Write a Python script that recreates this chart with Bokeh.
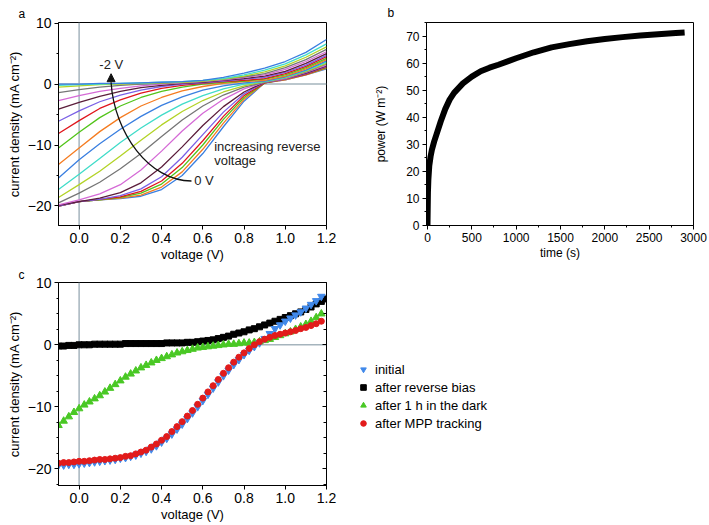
from bokeh.plotting import figure
from bokeh.layouts import column, row
from bokeh.models import (Span, Legend, LegendItem, LinearAxis, FixedTicker,
                          SingleIntervalTicker, NumeralTickFormatter, Arrow,
                          NormalHead, Label, CustomJSTickFormatter, Range1d)
from bokeh.embed import file_html
from bokeh.resources import INLINE

FONT = "Liberation Sans"

# ---------------- panel a: J-V curves after increasing reverse bias ----------------
voltage_a = [-0.1, 0.0, 0.1, 0.2, 0.3, 0.4, 0.5, 0.6, 0.7, 0.8, 0.9, 1.0, 1.1, 1.2]
j_bias_0v0 = [-20.0, -19.3, -19.0, -18.8, -18.4, -17.3, -15.0, -11.4, -7.0, -2.8, 0.2, 0.7, 1.5, 2.5]
j_bias_0v1 = [-20.0, -19.3, -19.0, -18.7, -18.2, -16.9, -14.4, -10.7, -6.4, -2.5, 0.2, 0.7, 1.5, 2.6]
j_bias_0v2 = [-20.0, -19.3, -19.0, -18.6, -17.9, -16.4, -13.7, -10.0, -5.8, -2.2, 0.2, 0.8, 1.6, 2.7]
j_bias_0v3 = [-20.0, -19.3, -18.9, -18.5, -17.6, -15.9, -13.0, -9.3, -5.3, -1.9, 0.2, 0.8, 1.6, 2.8]
j_bias_0v4 = [-20.0, -19.3, -18.9, -18.3, -17.2, -15.2, -12.0, -8.3, -4.6, -1.6, 0.3, 0.8, 1.7, 2.9]
j_bias_0v5 = [-19.9, -19.3, -18.7, -17.8, -16.2, -13.6, -10.3, -6.8, -3.7, -1.3, 0.3, 0.9, 1.8, 3.0]
j_bias_0v6 = [-19.8, -19.0, -18.0, -16.5, -14.1, -11.0, -7.7, -4.8, -2.5, -0.8, 0.3, 0.9, 1.9, 3.1]
j_bias_0v7 = [-19.5, -17.9, -16.1, -13.9, -11.4, -8.6, -5.9, -3.6, -1.8, -0.5, 0.3, 1.0, 2.0, 3.3]
j_bias_0v8 = [-18.6, -16.5, -14.3, -11.8, -9.2, -6.7, -4.5, -2.7, -1.3, -0.3, 0.4, 1.0, 2.1, 3.4]
j_bias_0v9 = [-17.3, -14.8, -12.2, -9.6, -7.2, -5.1, -3.3, -1.9, -0.8, 0.0, 0.4, 1.1, 2.2, 3.6]
j_bias_1v0 = [-15.4, -12.4, -9.8, -7.4, -5.3, -3.5, -2.1, -1.0, -0.3, 0.2, 0.5, 1.2, 2.3, 3.8]
j_bias_1v1 = [-13.2, -10.5, -7.8, -5.5, -3.6, -2.2, -1.1, -0.4, 0.1, 0.4, 0.6, 1.3, 2.5, 4.0]
j_bias_1v2 = [-10.5, -7.9, -5.5, -3.6, -2.2, -1.2, -0.5, 0.0, 0.3, 0.5, 0.8, 1.5, 2.7, 4.2]
j_bias_1v3 = [-8.1, -6.0, -4.0, -2.6, -1.5, -0.7, -0.2, 0.1, 0.4, 0.6, 0.9, 1.7, 2.9, 4.5]
j_bias_1v4 = [-6.1, -4.4, -2.9, -1.8, -1.0, -0.4, 0.0, 0.2, 0.5, 0.8, 1.1, 1.9, 3.1, 4.7]
j_bias_1v5 = [-4.1, -3.0, -2.0, -1.2, -0.6, -0.2, 0.1, 0.3, 0.6, 0.9, 1.3, 2.1, 3.4, 5.0]
j_bias_1v6 = [-2.7, -1.9, -1.2, -0.7, -0.3, 0.0, 0.2, 0.4, 0.7, 1.1, 1.5, 2.4, 3.7, 5.3]
j_bias_1v7 = [-1.4, -0.9, -0.5, -0.2, 0.0, 0.1, 0.3, 0.5, 0.8, 1.2, 1.7, 2.7, 4.0, 5.7]
j_bias_1v8 = [-0.5, -0.3, -0.1, 0.0, 0.1, 0.2, 0.3, 0.5, 0.8, 1.3, 2.0, 3.0, 4.4, 6.1]
j_bias_1v9 = [-0.2, -0.1, 0.0, 0.1, 0.2, 0.3, 0.4, 0.6, 0.9, 1.5, 2.3, 3.3, 4.8, 6.6]
j_bias_2v0 = [0.0, 0.0, 0.1, 0.1, 0.2, 0.3, 0.4, 0.6, 1.1, 1.8, 2.6, 3.7, 5.2, 7.3]

curves_a = [j_bias_0v0, j_bias_0v1, j_bias_0v2, j_bias_0v3, j_bias_0v4, j_bias_0v5,
            j_bias_0v6, j_bias_0v7, j_bias_0v8, j_bias_0v9, j_bias_1v0, j_bias_1v1,
            j_bias_1v2, j_bias_1v3, j_bias_1v4, j_bias_1v5, j_bias_1v6, j_bias_1v7,
            j_bias_1v8, j_bias_1v9, j_bias_2v0]
palette_a = ["#3a7fe0", "#f57c21", "#52c41a", "#e0161c", "#7b61e6",
             "#5b1d3b", "#d56ad6", "#767676", "#b3d327", "#40dcc9"]

# ---------------- panel b: power during MPP tracking ----------------
time_s = [0, 5, 10, 20, 35, 50, 75, 100, 150, 200, 250, 300, 400, 500, 600, 700,
          800, 1000, 1200, 1400, 1600, 1800, 2000, 2200, 2400, 2600, 2800, 2900]
power_wm2 = [0, 12, 17, 22, 25.5, 28, 31, 33.5, 38.5, 43, 46.5, 49, 52.5, 55, 57,
             58.3, 59.4, 61.8, 64.0, 65.8, 67.0, 68.1, 68.9, 69.6, 70.2, 70.7, 71.1, 71.3]

# ---------------- panel c: J-V curves of the four states ----------------
voltage_c = [-0.1, -0.075, -0.05, -0.025, 0.0, 0.025, 0.05, 0.075, 0.1, 0.125,
             0.15, 0.175, 0.2, 0.225, 0.25, 0.275, 0.3, 0.325, 0.35, 0.375,
             0.4, 0.425, 0.45, 0.475, 0.5, 0.525, 0.55, 0.575, 0.6, 0.625,
             0.65, 0.675, 0.7, 0.725, 0.75, 0.775, 0.8, 0.825, 0.85, 0.875,
             0.9, 0.925, 0.95, 0.975, 1.0, 1.025, 1.05, 1.075, 1.1, 1.125,
             1.15, 1.175]
voltage_c_reverse = voltage_c + [1.2]
j_initial = [-19.4, -19.4, -19.3, -19.3, -19.2, -19.1, -19.0, -18.9, -18.8, -18.7,
             -18.6, -18.5, -18.3, -18.2, -18.0, -17.8, -17.5, -17.2, -16.8, -16.3,
             -15.7, -15.1, -14.4, -13.6, -12.8, -11.9, -11.0, -10.0, -9.0, -8.0,
             -7.0, -6.0, -5.0, -4.1, -3.2, -2.4, -1.6, -0.9, -0.3, 0.3,
             1.0, 1.8, 2.6, 3.2, 3.8, 4.3, 4.8, 5.3, 5.9, 6.5,
             7.1, 7.8]
j_after_reverse = [-0.2, -0.2, -0.1, -0.1, 0.0, 0.0, 0.0, 0.1, 0.1, 0.1,
                   0.1, 0.1, 0.1, 0.2, 0.2, 0.2, 0.2, 0.2, 0.2, 0.2,
                   0.2, 0.3, 0.3, 0.3, 0.3, 0.4, 0.4, 0.5, 0.6, 0.7,
                   0.8, 1.0, 1.2, 1.4, 1.7, 1.9, 2.1, 2.4, 2.6, 2.9,
                   3.2, 3.5, 3.8, 4.1, 4.4, 4.7, 5.0, 5.3, 5.7, 6.1,
                   6.6, 7.0, 7.4]
j_after_dark = [-13.0, -12.3, -11.6, -10.9, -10.3, -9.7, -9.2, -8.7, -8.2, -7.6,
                -7.0, -6.4, -5.8, -5.2, -4.7, -4.2, -3.7, -3.3, -2.9, -2.5,
                -2.2, -1.9, -1.6, -1.3, -1.1, -0.9, -0.7, -0.5, -0.4, -0.3,
                -0.2, -0.1, 0.0, 0.1, 0.1, 0.2, 0.3, 0.3, 0.4, 0.5,
                0.7, 0.9, 1.2, 1.5, 1.8, 2.1, 2.5, 2.9, 3.3, 3.8,
                4.4, 5.0]
j_after_mpp = [-19.1, -19.0, -19.0, -18.9, -18.8, -18.8, -18.7, -18.6, -18.5, -18.5,
               -18.4, -18.3, -18.2, -18.0, -17.9, -17.6, -17.3, -17.0, -16.5, -16.0,
               -15.4, -14.8, -14.0, -13.2, -12.4, -11.5, -10.6, -9.6, -8.6, -7.6,
               -6.6, -5.6, -4.6, -3.7, -2.8, -2.0, -1.3, -0.6, 0.0, 0.5,
               0.9, 1.2, 1.5, 1.7, 1.9, 2.1, 2.3, 2.6, 2.8, 3.1,
               3.4, 3.8]
legend_labels = ["initial", "after reverse bias", "after 1 h in the dark", "after MPP tracking"]

C_INIT, C_REV, C_DARK, C_MPP = "#4189ea", "black", "#49c824", "#e21b1b"


def style(p, tick_px, label_px):
    for ax in p.axis:
        ax.major_label_text_font = FONT
        ax.major_label_text_font_size = f"{tick_px}px"
        ax.major_label_text_color = "black"
        ax.axis_label_text_font = FONT
        ax.axis_label_text_font_size = f"{label_px}px"
        ax.axis_label_text_font_style = "normal"
        ax.axis_label_text_color = "black"
        ax.axis_line_color = "black"
        ax.major_tick_line_color = "black"
        ax.minor_tick_line_color = "black"
        ax.major_tick_in = 0
        ax.major_tick_out = 4
        ax.minor_tick_in = 0
        ax.minor_tick_out = 2
        ax.major_label_standoff = 3
    p.xgrid.visible = False
    p.ygrid.visible = False
    p.outline_line_color = "black"
    p.outline_line_alpha = 1
    p.background_fill_color = "white"
    p.border_fill_color = "white"


def panel_letter(p, text, offset, standoff):
    p.title.text = text
    p.title.text_font = FONT
    p.title.text_font_size = "12px"
    p.title.text_font_style = "normal"
    p.title.text_color = "black"
    p.title.align = "left"
    p.title.offset = offset
    p.title.standoff = standoff


def zero_lines(p):
    p.add_layout(Span(location=0, dimension="width", line_color="#a5b4bd",
                      line_width=1.5, level="underlay"))
    p.add_layout(Span(location=0, dimension="height", line_color="#a5b4bd",
                      line_width=1.5, level="underlay"))


XA = (-0.1, 1.2)

# ---------- figure a ----------
pa = figure(width=340, height=264, x_range=XA, y_range=(-23.2, 10.1),
            output_backend="svg", toolbar_location=None,
            min_border_left=58, min_border_right=14, min_border_top=21, min_border_bottom=37)
panel_letter(pa, "a", -40, 4)
zero_lines(pa)
for i, j in enumerate(curves_a):
    pa.line(voltage_a, j, line_color=palette_a[i % len(palette_a)], line_width=1.3)
pa.xaxis.ticker = FixedTicker(ticks=[0.0, 0.2, 0.4, 0.6, 0.8, 1.0, 1.2])
pa.xaxis.formatter = NumeralTickFormatter(format="0.0")
pa.yaxis.ticker = FixedTicker(ticks=[-20, -10, 0, 10], minor_ticks=[-15, -5, 5])
pa.xaxis.axis_label = "voltage (V)"
pa.yaxis.axis_label = "current density (mA cm\u207b\u00b2)"
style(pa, 14, 13)
pa.xaxis.axis_label_standoff = 1
pa.yaxis.axis_label_standoff = 3
# curved arrow
pa.bezier(x0=[0.545], y0=[-15.9], x1=[0.155], y1=[0.3], cx0=[0.34], cy0=[-15.9],
          cx1=[0.17], cy1=[-8.0], line_color="#111111", line_width=1.3)
pa.add_layout(Arrow(end=NormalHead(size=8, fill_color="#111111", line_color="#111111"),
                    x_start=0.155, y_start=0.0, x_end=0.155, y_end=1.7, line_alpha=0))
for (tx, ty, tt) in [(0.098, 3.2, "-2 V"), (0.558, -15.9, "0 V"),
                     (0.655, -10.2, "increasing reverse"), (0.655, -12.6, "voltage")]:
    pa.add_layout(Label(x=tx, y=ty, text=tt, text_font=FONT, text_font_size="13px",
                        text_color="#222222", text_align="left", text_baseline="middle"))

# ---------- figure b ----------
pb = figure(width=369, height=264, x_range=(-11, 3000), y_range=(0, 75),
            output_backend="svg", toolbar_location=None,
            min_border_left=86, min_border_right=16, min_border_top=22, min_border_bottom=37)
panel_letter(pb, "b", -39, 5)
pb.line(time_s, power_wm2, line_color="black", line_width=6)
pb.xaxis.ticker = SingleIntervalTicker(interval=500, num_minor_ticks=2)
pb.yaxis.ticker = SingleIntervalTicker(interval=10, num_minor_ticks=2)
pb.xaxis.axis_label = "time (s)"
pb.yaxis.axis_label = "power (W m\u207b\u00b2)"
style(pb, 12, 12)
pb.xaxis.axis_label_standoff = 1
pb.yaxis.axis_label_standoff = 15

# ---------- figure c ----------
pc = figure(width=340, height=261, x_range=XA, y_range=(-22.7, 10.05),
            output_backend="svg", toolbar_location=None,
            min_border_left=58, min_border_right=14, min_border_top=18, min_border_bottom=40)
panel_letter(pc, "c", -40, 2)
zero_lines(pc)
pc.scatter(voltage_c_reverse, j_after_reverse, marker="square", size=6,
           fill_color=C_REV, line_color=C_REV)
pc.scatter(voltage_c, j_after_dark, marker="triangle", size=7.5,
           fill_color=C_DARK, line_color=C_DARK)
pc.scatter(voltage_c, j_initial, marker="inverted_triangle", size=7.5,
           fill_color=C_INIT, line_color=C_INIT)
pc.scatter(voltage_c, j_after_mpp, marker="circle", size=6,
           fill_color=C_MPP, line_color=C_MPP)
pc.xaxis.ticker = FixedTicker(ticks=[0.0, 0.2, 0.4, 0.6, 0.8, 1.0, 1.2])
pc.xaxis.formatter = NumeralTickFormatter(format="0.0")
minor_c = [-22.5, -17.5, -15, -12.5, -7.5, -5, -2.5, 2.5, 5, 7.5]
pc.yaxis.ticker = FixedTicker(ticks=[-20, -10, 0, 10], minor_ticks=minor_c)
pc.xaxis.axis_label = "voltage (V)"
pc.yaxis.axis_label = "current density (mA cm\u207b\u00b2)"
style(pc, 14, 13)
pc.xaxis.axis_label_standoff = 1
pc.yaxis.axis_label_standoff = 3
right_ax = LinearAxis(ticker=FixedTicker(ticks=[-20, -10, 0, 10], minor_ticks=minor_c),
                      formatter=CustomJSTickFormatter(code="return ''"),
                      major_tick_in=4, major_tick_out=0, minor_tick_in=3, minor_tick_out=0,
                      axis_line_color="black", major_tick_line_color="black",
                      minor_tick_line_color="black", major_label_standoff=0)
pc.add_layout(right_ax, "right")

# ---------- legend of panel c (own canvas to the right) ----------
# marker renderers used only as legend keys; their single point lies outside the view
pl = figure(width=369, height=261, x_range=Range1d(0, 1), y_range=Range1d(0, 1),
            output_backend="svg", toolbar_location=None,
            min_border_left=0, min_border_right=0, min_border_top=0, min_border_bottom=0)
pl.axis.visible = False
pl.xgrid.visible = False
pl.ygrid.visible = False
pl.outline_line_color = None
off = [-5.0]
l_init = pl.scatter(x=off, y=off, marker="inverted_triangle", size=7.5, fill_color=C_INIT, line_color=C_INIT)
l_rev = pl.scatter(x=off, y=off, marker="square", size=6, fill_color=C_REV, line_color=C_REV)
l_dark = pl.scatter(x=off, y=off, marker="triangle", size=7.5, fill_color=C_DARK, line_color=C_DARK)
l_mpp = pl.scatter(x=off, y=off, marker="circle", size=6, fill_color=C_MPP, line_color=C_MPP)
legend = Legend(items=[LegendItem(label=legend_labels[0], renderers=[l_init]),
                       LegendItem(label=legend_labels[1], renderers=[l_rev]),
                       LegendItem(label=legend_labels[2], renderers=[l_dark]),
                       LegendItem(label=legend_labels[3], renderers=[l_mpp])],
                location=(16, 53), glyph_width=14, glyph_height=18, label_height=18,
                spacing=0, padding=0, margin=0, label_standoff=5,
                label_text_font=FONT, label_text_font_size="13px",
                label_text_color="black", border_line_alpha=0,
                background_fill_alpha=0)
pl.add_layout(legend)

layout = column(row(pa, pb), row(pc, pl))
open("out.html", "w").write(file_html(layout, INLINE))
